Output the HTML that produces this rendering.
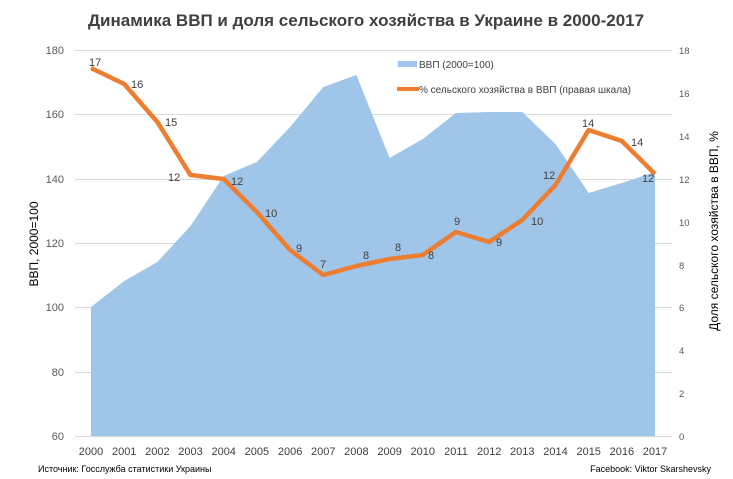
<!DOCTYPE html>
<html><head><meta charset="utf-8"><style>
body{margin:0;background:#fff}
svg{display:block;font-family:"Liberation Sans",sans-serif}
</style></head><body>
<svg width="733" height="479" viewBox="0 0 733 479">
<rect width="733" height="479" fill="#fff"/>
<g stroke="#d9d9d9" stroke-width="1">
<line x1="75" x2="672" y1="50.5" y2="50.5"/>
<line x1="75" x2="672" y1="114.5" y2="114.5"/>
<line x1="75" x2="672" y1="179.5" y2="179.5"/>
<line x1="75" x2="672" y1="243.5" y2="243.5"/>
<line x1="75" x2="672" y1="307.5" y2="307.5"/>
<line x1="75" x2="672" y1="372.5" y2="372.5"/>
<line x1="75" x2="672" y1="436.5" y2="436.5"/>
</g>
<polygon fill="#9fc5e8" points="91,436 91,307 124.2,281 157.4,262 190.5,226 223.7,176 256.9,162 290.1,127 323.3,87 356.4,75 389.6,158 422.8,139 456,113 489.2,112 522.3,112 555.5,144 588.7,193 621.9,183 655,172 655,436"/>
<polyline fill="none" stroke="#ed7d31" stroke-width="4.5" stroke-linejoin="round" points="91,68 124.2,84 157.4,122 190.5,175 223.7,179 256.9,212 290.1,250 323.3,275 356.4,266 389.6,259 422.8,255 456,232 489.2,242 522.3,220 555.5,185 588.7,130 621.9,141 655,174"/>
<g font-size="11" fill="#404040">
<text x="89" y="66">17</text><text x="131" y="88">16</text><text x="165" y="126">15</text>
<text x="168" y="181">12</text><text x="231" y="185">12</text><text x="265" y="217">10</text>
<text x="296" y="252">9</text><text x="320" y="268">7</text><text x="363" y="259">8</text>
<text x="395" y="251">8</text><text x="428" y="259">8</text><text x="454" y="225">9</text>
<text x="496" y="246">9</text><text x="531" y="225">10</text><text x="543" y="179">12</text>
<text x="582" y="127">14</text><text x="631" y="146">14</text><text x="642" y="182">12</text>
</g>
<text x="366" y="26" font-size="17" font-weight="bold" fill="#404040" text-anchor="middle">Динамика ВВП и доля сельского хозяйства в Украине в 2000-2017</text>
<g font-size="11" fill="#595959" text-anchor="end">
<text x="64" y="54">180</text><text x="64" y="118">160</text><text x="64" y="183">140</text>
<text x="64" y="247">120</text><text x="64" y="311">100</text><text x="64" y="376">80</text><text x="64" y="440">60</text>
</g>
<g font-size="9.5" fill="#595959">
<text x="679" y="54">18</text><text x="679" y="97">16</text><text x="679" y="140">14</text>
<text x="679" y="183">12</text><text x="679" y="226">10</text><text x="679" y="269">8</text>
<text x="679" y="311">6</text><text x="679" y="354">4</text><text x="679" y="397">2</text><text x="679" y="440">0</text>
</g>
<g font-size="11" fill="#404040" text-anchor="middle">
<text x="91" y="455">2000</text><text x="124.2" y="455">2001</text><text x="157.4" y="455">2002</text>
<text x="190.5" y="455">2003</text><text x="223.7" y="455">2004</text><text x="256.9" y="455">2005</text>
<text x="290.1" y="455">2006</text><text x="323.3" y="455">2007</text><text x="356.4" y="455">2008</text>
<text x="389.6" y="455">2009</text><text x="422.8" y="455">2010</text><text x="456" y="455">2011</text>
<text x="489.2" y="455">2012</text><text x="522.3" y="455">2013</text><text x="555.5" y="455">2014</text>
<text x="588.7" y="455">2015</text><text x="621.9" y="455">2016</text><text x="655" y="455">2017</text>
</g>
<text transform="translate(38,244) rotate(-90)" font-size="12" fill="#000" text-anchor="middle">ВВП, 2000=100</text>
<text transform="translate(718,231) rotate(-90)" font-size="12" fill="#000" text-anchor="middle">Доля сельского хозяйства в ВВП, %</text>
<rect x="398" y="61" width="19" height="6" fill="#9fc5e8"/>
<text x="419" y="68" font-size="10" fill="#404040">ВВП (2000=100)</text>
<line x1="397" x2="419" y1="89" y2="89" stroke="#ed7d31" stroke-width="4"/>
<text x="419" y="93" font-size="10" fill="#404040">% сельского хозяйства в  ВВП (правая шкала)</text>
<text x="38" y="472" font-size="9" fill="#000">Источник: Госслужба статистики Украины</text>
<text x="711" y="472" font-size="9" fill="#000" text-anchor="end">Facebook: Viktor Skarshevsky</text>
</svg>
</body></html>
